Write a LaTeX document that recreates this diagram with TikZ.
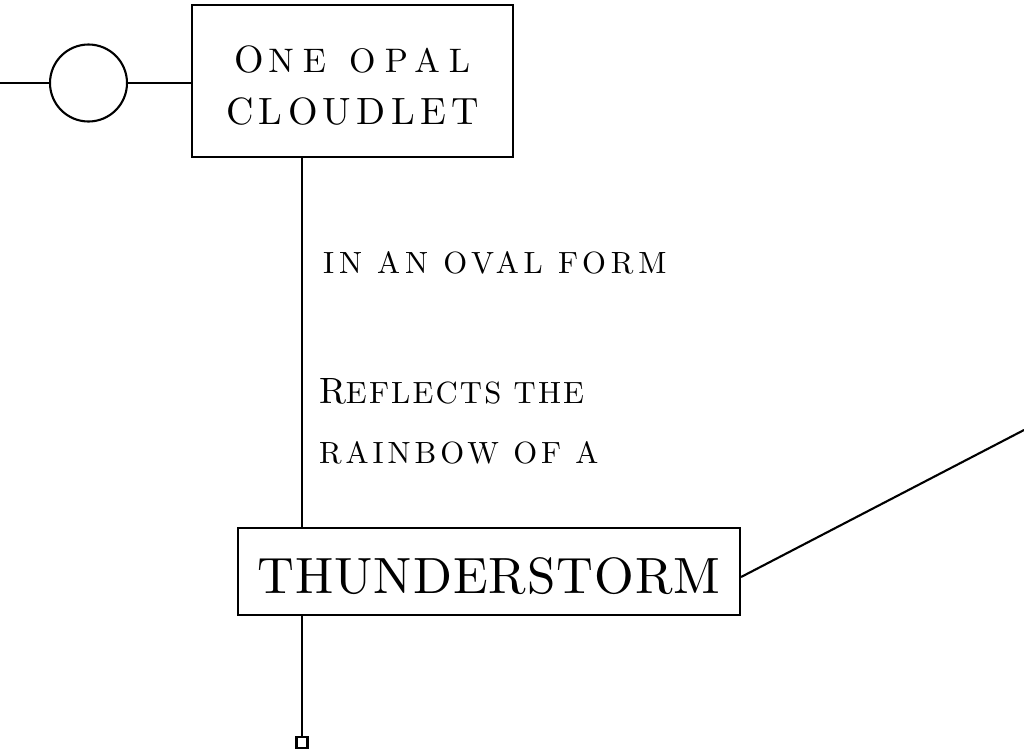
\documentclass[tikz,border=0pt]{standalone}
\usepackage{fontspec}
\newfontfamily\wf{lmroman10-regular}[Extension=.otf]
\newcommand\capsz[2]{{\fontsize{#1}{#1}\selectfont #2}}
\newcommand\up[1]{\MakeUppercase{#1}}
\begin{document}
\begin{tikzpicture}[x=1pt,y=-1pt,line width=2.1pt,
  box/.style={draw,rectangle,inner sep=0pt,align=center},
  lbl/.style={anchor=base west,inner sep=0pt}]
\useasboundingbox (0,0) rectangle (1024,753);
\node[circle,draw,minimum size=77pt,inner sep=0pt] (c) at (88.5,83) {};
\coordinate (w) at (0,83);
\draw (w) -- (c.west);
\node[box,minimum width=321pt,minimum height=152pt,font=\wf\fontsize{34}{52}\selectfont] (b1) at (352.5,81)
  {\rule{0pt}{36pt}{\addfontfeature{LetterSpace=27}\spaceskip=23pt\capsz{38}{O}\kern4pt\up{ne opal}}\\{\addfontfeature{LetterSpace=14}\capsz{38}{CLOUDLET}}};
\draw (c.east) -- (c.east -| b1.west);
\coordinate (trunk) at (302,0);
\node[box,minimum width=502pt,minimum height=87pt,font=\wf\addfontfeature{LetterSpace=2}\fontsize{51}{60}\selectfont] (b2) at (489,571.5)
  {\rule{0pt}{45pt}THUNDERSTORM};
\draw (b1.south -| trunk) -- (b2.north -| trunk);
\node[draw,rectangle,minimum size=11pt,inner sep=0pt] (sq) at (302,742.5) {};
\draw (b2.south -| sq) -- (sq.north);
\coordinate (far) at (1024,430);
\draw ([yshift=-5.5pt]b2.east) -- (far);
\node[lbl,font=\wf\addfontfeature{LetterSpace=16}\fontsize{30.7}{36}\selectfont] (l1) at (322,273) {\up{in an oval form}};
\node[lbl,font=\wf\addfontfeature{LetterSpace=7}\fontsize{30.7}{36}\selectfont] (l2) at (318,403) {\capsz{36.6}{R}\up{eflects the}};
\node[lbl,font=\wf\addfontfeature{LetterSpace=13}\fontsize{30.7}{36}\selectfont] (l3) at (318,463) {\up{rainbow of a}};
\end{tikzpicture}
\end{document}
